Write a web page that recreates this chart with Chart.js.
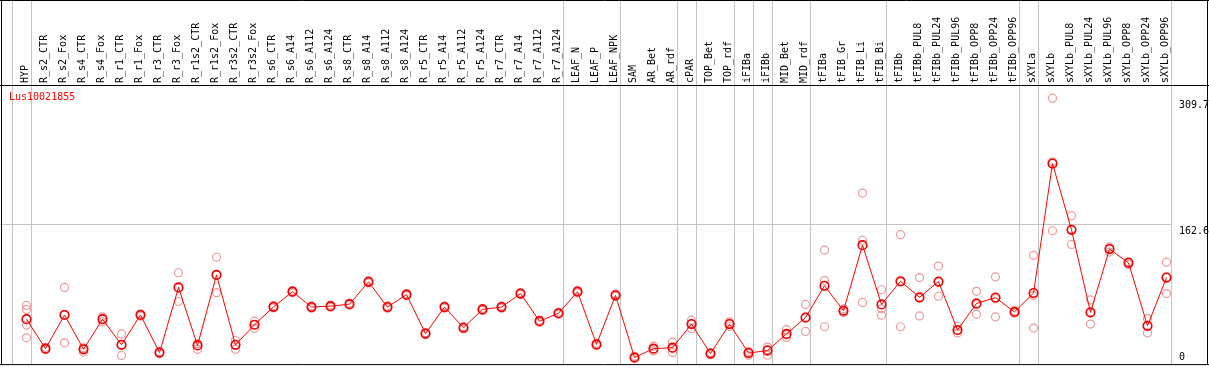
<!DOCTYPE html>
<html>
<head>
<meta charset="utf-8">
<title>Lus10021855</title>
<script src="https://cdn.jsdelivr.net/npm/chart.js@4.4.1/dist/chart.umd.min.js"></script>
<style>
  html, body { margin: 0; padding: 0; background: #fff; }
  #wrap { width: 1209px; height: 370px; }
</style>
</head>
<body>
<div id="wrap"><canvas id="exprChart" width="1209" height="370"></canvas></div>
<script>
// gene name shown top-left
const geneName = 'Lus10021855';

// sample / tissue categories (x axis)
const categories = [
  'HYP', 'R_s2_CTR', 'R_s2_Fox', 'R_s4_CTR', 'R_s4_Fox', 'R_r1_CTR', 'R_r1_Fox',
  'R_r3_CTR', 'R_r3_Fox', 'R_r1s2_CTR', 'R_r1s2_Fox', 'R_r3s2_CTR', 'R_r3s2_Fox',
  'R_s6_CTR', 'R_s6_A14', 'R_s6_A112', 'R_s6_A124', 'R_s8_CTR', 'R_s8_A14',
  'R_s8_A112', 'R_s8_A124', 'R_r5_CTR', 'R_r5_A14', 'R_r5_A112', 'R_r5_A124',
  'R_r7_CTR', 'R_r7_A14', 'R_r7_A112', 'R_r7_A124', 'LEAF_N', 'LEAF_P', 'LEAF_NPK',
  'SAM', 'AR_Bet', 'AR_rdf', 'cPAR', 'TOP_Bet', 'TOP_rdf', 'iFIBa', 'iFIBb',
  'MID_Bet', 'MID_rdf', 'tFIBa', 'tFIB_Gr', 'tFIB_Li', 'tFIB_Bi', 'tFIBb',
  'tFIBb_PUL8', 'tFIBb_PUL24', 'tFIBb_PUL96', 'tFIBb_OPP8', 'tFIBb_OPP24', 'tFIBb_OPP96',
  'sXYLa', 'sXYLb', 'sXYLb_PUL8', 'sXYLb_PUL24', 'sXYLb_PUL96', 'sXYLb_OPP8',
  'sXYLb_OPP24', 'sXYLb_OPP96'
];

// mean expression (red line)
const meanValues = [
  52.3, 18.0, 57.2, 17.2, 52.3, 22.5, 57.2, 13.4, 89.3, 21.7, 103.8, 22.5, 45.8,
  66.7, 84.3, 66.4, 67.5, 69.8, 95.8, 66.4, 80.9, 35.5, 66.4, 42.3, 63.7,
  66.4, 82.1, 50.0, 59.2, 84.3, 22.9, 80.1,
  7.7, 18.0, 19.1, 46.6, 12.2, 46.6, 12.9, 15.7, 35.1, 54.1,
  91.2, 62.1, 138.5, 69.5, 96.5, 77.8, 96.1, 39.7, 70.6, 77.5, 60.7,
  82.7, 233.5, 156.4, 60.3, 133.9, 117.9, 44.6, 100.7
];

// replicates (light red circles)
const rep1Values = [
  68.3, 19.5, 89.3, 18.7, 55.0, 35.1, 58.5, 14.5, 106.4, 23.7, 124.4, 27.8, 50.0,
  68.0, 85.6, 67.7, 68.8, 71.1, 97.1, 67.7, 82.2, 36.8, 67.7, 43.6, 65.0,
  67.7, 83.4, 51.3, 60.5, 85.6, 24.2, 81.4,
  9.0, 20.9, 25.5, 51.2, 13.5, 49.2, 14.9, 19.8, 40.1, 69.5,
  132.8, 64.4, 199.1, 86.6, 150.7, 100.7, 114.1, 43.8, 84.7, 101.5, 62.0,
  126.7, 309.7, 172.8, 74.7, 136.5, 119.2, 53.0, 118.7
];
const rep2Values = [
  30.6, 16.8, 24.8, 14.1, 49.2, 10.0, 55.8, 12.3, 72.9, 17.2, 83.2, 17.2, 41.5,
  65.4, 83.0, 65.1, 66.2, 68.5, 94.5, 65.1, 79.6, 34.2, 65.1, 41.0, 62.4,
  65.1, 80.8, 48.7, 57.9, 83.0, 21.6, 78.8,
  6.4, 15.4, 13.4, 41.5, 10.9, 43.8, 10.3, 10.3, 31.2, 38.1,
  43.5, 59.9, 71.8, 56.9, 43.5, 56.1, 79.0, 36.3, 58.0, 54.9, 59.4,
  42.0, 155.3, 139.3, 46.6, 130.5, 115.9, 36.3, 82.1
];
const rep3Values = [
  45.4, 17.9, 57.6, 18.8, 52.6, 22.4, 57.3, 13.4, 88.6, 24.2, 103.8, 22.5, 45.9,
  66.7, 84.3, 66.4, 67.5, 69.8, 95.8, 66.4, 80.9, 35.5, 66.4, 42.3, 63.7,
  66.4, 82.1, 50.0, 59.2, 84.3, 22.9, 80.1,
  7.7, 17.7, 18.4, 47.1, 12.2, 46.8, 13.5, 17.0, 34.0, 54.7,
  97.3, 62.0, 144.2, 64.4, 95.3, 76.6, 95.2, 39.0, 69.1, 76.1, 60.7,
  79.8, 235.5, 157.1, 59.6, 134.7, 118.6, 44.5, 101.3
];
// only HYP has a fourth replicate
const rep4Values = [63.7];

// groups end after these category indexes (-1 = before first)
const groupEnds = [-1, 0, 28, 31, 34, 35, 37, 38, 39, 41, 45, 52, 53, 60];

// value labels on the right, and the grid line value
const yLabels = ['309.7', '162.6', '0'];
const gridValue = 162.6;
const yMax = 325;

const MONO = '"DejaVu Sans Mono", monospace';

// lines, borders and texts around the plot
const framePlugin = {
  id: 'frame',
  beforeDatasetsDraw(chart) {
    const ctx = chart.ctx;
    const xs = chart.scales.x;
    const ys = chart.scales.y;
    const area = chart.chartArea;
    ctx.save();
    ctx.strokeStyle = '#c4c4c4';
    ctx.lineWidth = 1;
    // vertical group separators
    groupEnds.forEach(i => {
      const x = Math.round(xs.getPixelForValue(i) + 4.5) + 0.5;
      ctx.beginPath();
      ctx.moveTo(x, 0);
      ctx.lineTo(x, area.bottom);
      ctx.stroke();
    });
    // horizontal grid line
    const gy = Math.round(ys.getPixelForValue(gridValue)) + 0.5;
    const gx2 = Math.round(xs.getPixelForValue(60) + 4.5);
    ctx.beginPath();
    ctx.moveTo(0, gy);
    ctx.lineTo(gx2, gy);
    ctx.stroke();
    ctx.restore();
  },
  afterDraw(chart) {
    const ctx = chart.ctx;
    const ys = chart.scales.y;
    const area = chart.chartArea;
    const W = chart.width;
    ctx.save();
    // black frame + header line
    ctx.strokeStyle = '#000';
    ctx.lineWidth = 1;
    ctx.beginPath();
    ctx.moveTo(0, 0.5); ctx.lineTo(W, 0.5);
    ctx.moveTo(0, area.top + 0.5); ctx.lineTo(W, area.top + 0.5);
    ctx.moveTo(0, area.bottom + 0.5); ctx.lineTo(W, area.bottom + 0.5);
    ctx.moveTo(1.5, 0); ctx.lineTo(1.5, area.bottom + 1);
    ctx.moveTo(W - 1.5, 0); ctx.lineTo(W - 1.5, area.bottom + 1);
    ctx.stroke();

    // gene name
    ctx.font = '10px ' + MONO;
    ctx.fillStyle = '#ff0000';
    ctx.textAlign = 'left';
    ctx.textBaseline = 'middle';
    ctx.fillText(geneName, 9, area.top + 12);

    // right value labels
    ctx.fillStyle = '#000';
    ctx.textBaseline = 'top';
    yLabels.forEach(t => {
      const py = ys.getPixelForValue(parseFloat(t));
      const top = Math.min(py + 2, area.bottom - 12);
      ctx.fillText(t, 1179, top);
    });
    ctx.restore();
  }
};

function repDataset(values) {
  return {
    data: values,
    showLine: false,
    pointStyle: 'circle',
    pointRadius: 4,
    pointBorderWidth: 1.2,
    pointBorderColor: '#eb9a9a',
    pointBackgroundColor: 'rgba(0,0,0,0)'
  };
}

const ctx = document.getElementById('exprChart').getContext('2d');
new Chart(ctx, {
  type: 'line',
  data: {
    labels: categories,
    datasets: [
      {
        data: meanValues,
        borderColor: '#ff0000',
        borderWidth: 1,
        tension: 0,
        pointStyle: 'circle',
        pointRadius: 4.3,
        pointBorderWidth: 1.6,
        pointBorderColor: '#f00000',
        pointBackgroundColor: 'rgba(0,0,0,0)'
      },
      repDataset(rep1Values),
      repDataset(rep2Values),
      repDataset(rep3Values),
      repDataset(rep4Values)
    ]
  },
  options: {
    responsive: false,
    animation: false,
    devicePixelRatio: 1,
    layout: { padding: { left: 17, right: 33, top: 0, bottom: 1 } },
    plugins: {
      legend: { display: false },
      tooltip: { enabled: false },
      title: { display: false }
    },
    scales: {
      x: {
        type: 'category',
        position: 'top',
        offset: true,
        grid: { display: false, drawTicks: false },
        border: { display: false },
        ticks: {
          autoSkip: false,
          minRotation: 90,
          maxRotation: 90,
          padding: 2,
          labelOffset: 10.5,
          color: '#000',
          font: { family: MONO, size: 10 }
        },
        afterFit(scale) { scale.height = 85; }
      },
      y: {
        display: false,
        min: 0,
        max: yMax
      }
    }
  },
  plugins: [framePlugin]
});
</script>
</body>
</html>
